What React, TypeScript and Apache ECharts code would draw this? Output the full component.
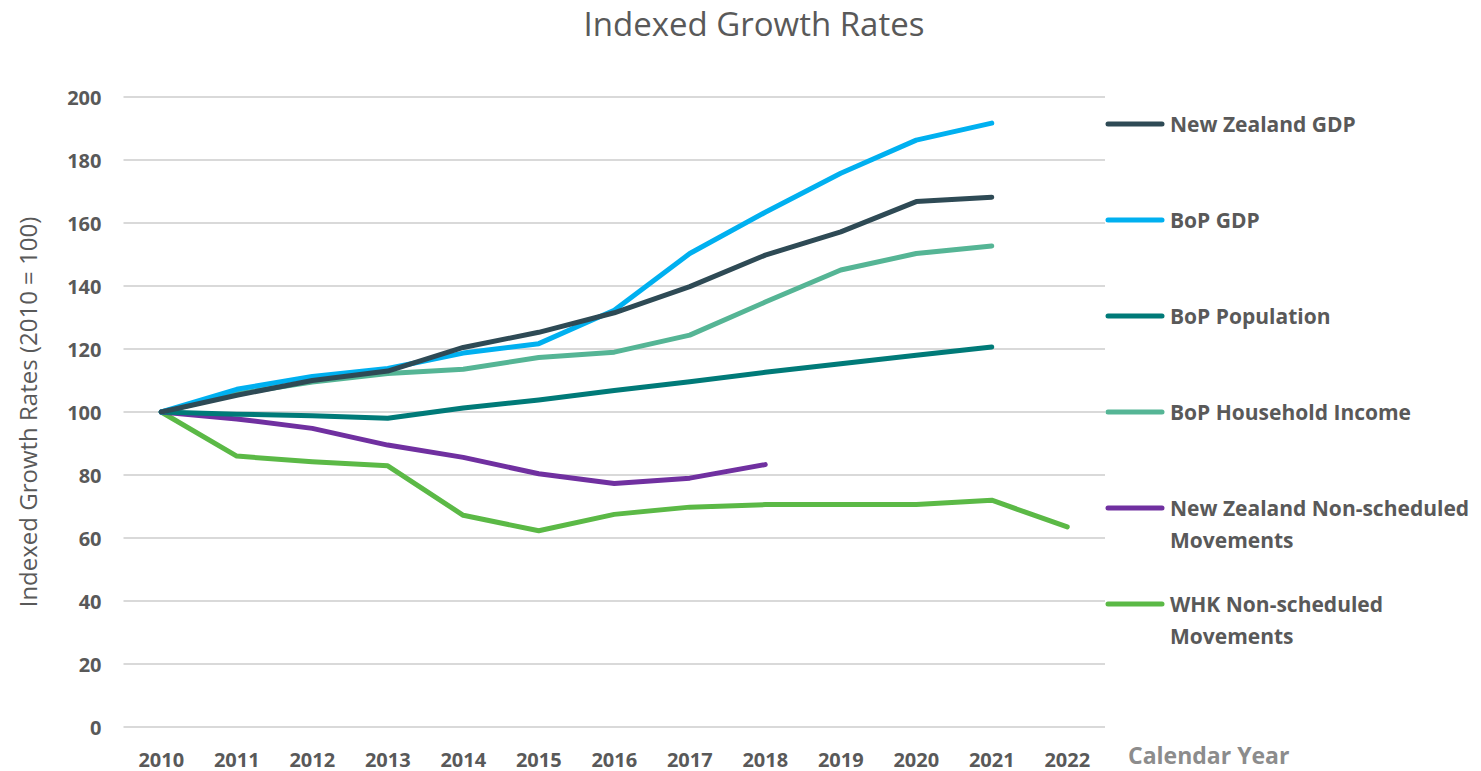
import React, { useEffect, useRef } from "react";
import * as echarts from "echarts";

const years = ["2010", "2011", "2012", "2013", "2014", "2015", "2016", "2017", "2018", "2019", "2020", "2021", "2022"];

const nzGdp = [100, 105.3, 110, 113, 120.5, 125.3, 131.5, 139.8, 149.8, 157.2, 166.8, 168.2, null];
const bopGdp = [100, 107.2, 111.3, 113.8, 118.7, 121.7, 132.3, 150.3, 163.4, 175.8, 186.3, 191.7, null];
const bopPopulation = [100, 99.3, 98.8, 98, 101.3, 103.8, 106.8, 109.6, 112.6, 115.3, 118, 120.6, null];
const bopHouseholdIncome = [100, 105.8, 109.5, 112.2, 113.6, 117.3, 119, 124.4, 134.9, 145.1, 150.3, 152.7, null];
const nzNonScheduled = [100, 97.8, 94.8, 89.5, 85.6, 80.4, 77.3, 79, 83.3, null, null, null, null];
const whkNonScheduled = [100, 86, 84.2, 82.9, 67.2, 62.3, 67.5, 69.8, 70.6, 70.6, 70.6, 72, 63.5];

const seriesNames = [
  "New Zealand GDP",
  "BoP GDP",
  "BoP Population",
  "BoP Household Income",
  "New Zealand Non-scheduled\nMovements",
  "WHK Non-scheduled\nMovements",
];
const seriesColors = ["#2E4A55", "#00B0F0", "#007A78", "#55B595", "#7030A0", "#5BB946"];
const seriesData = [nzGdp, bopGdp, bopPopulation, bopHouseholdIncome, nzNonScheduled, whkNonScheduled];
const yTicks = [0, 20, 40, 60, 80, 100, 120, 140, 160, 180, 200];

const FONT = "'Open Sans', sans-serif";

export default function App() {
  const ref = useRef<HTMLDivElement>(null);
  useEffect(() => {
    if (!ref.current) return;
    const chart = echarts.init(ref.current, undefined, { renderer: "svg" });
    const legendTop = 124;
    const legendStep = 96;
    const legendGraphics: any[] = [];
    seriesNames.forEach((name, i) => {
      const y = legendTop + i * legendStep;
      legendGraphics.push({
        type: "line",
        shape: { x1: 1108, y1: y, x2: 1162, y2: y },
        style: { stroke: seriesColors[i], lineWidth: 5, lineCap: "round" },
      });
      legendGraphics.push({
        type: "text",
        x: 1170,
        y: y - 16,
        style: {
          text: name,
          fill: "#595959",
          font: `bold 21px ${FONT}`,
          lineHeight: 32,
          verticalAlign: "top",
          align: "left",
        },
      });
    });
    legendGraphics.push({
      type: "text",
      x: 1128,
      y: 755,
      style: {
        text: "Calendar Year",
        fill: "#8C8C8C",
        font: `bold 23px ${FONT}`,
        verticalAlign: "middle",
        align: "left",
      },
    });

    chart.setOption({
      animation: false,
      backgroundColor: "#ffffff",
      title: {
        text: "Indexed Growth Rates",
        left: 749,
        textAlign: "center",
        top: 2,
        textStyle: { fontFamily: FONT, fontSize: 33, fontWeight: "normal", color: "#595959" },
      },
      grid: { left: 123.5, right: 376, top: 97, bottom: 44, containLabel: false },
      xAxis: {
        type: "category",
        data: years,
        boundaryGap: true,
        axisLine: { show: false },
        axisTick: { show: false },
        axisLabel: { color: "#595959", fontFamily: FONT, fontWeight: "bold", fontSize: 20, lineHeight: 20, margin: 22 },
      },
      yAxis: {
        type: "value",
        min: yTicks[0],
        max: yTicks[yTicks.length - 1],
        interval: 20,
        name: "Indexed Growth Rates (2010 = 100)",
        nameLocation: "middle",
        nameGap: 84,
        nameTextStyle: { color: "#595959", fontFamily: FONT, fontSize: 24 },
        axisLine: { show: false },
        axisTick: { show: false },
        axisLabel: { color: "#595959", fontFamily: FONT, fontWeight: "bold", fontSize: 20, margin: 22 },
        splitLine: { lineStyle: { color: "#D9D9D9", width: 2 } },
      },
      graphic: legendGraphics,
      series: seriesData.map((d, i) => ({
        name: seriesNames[i],
        type: "line",
        data: d,
        showSymbol: false,
        symbol: "none",
        connectNulls: false,
        lineStyle: { color: seriesColors[i], width: 5, cap: "round", join: "round" },
        itemStyle: { color: seriesColors[i] },
        z: 10 - i,
      })),
    });
    return () => chart.dispose();
  }, []);
  return <div ref={ref} style={{ position: "fixed", left: 0, top: 0, width: 1481, height: 771 }} />;
}
